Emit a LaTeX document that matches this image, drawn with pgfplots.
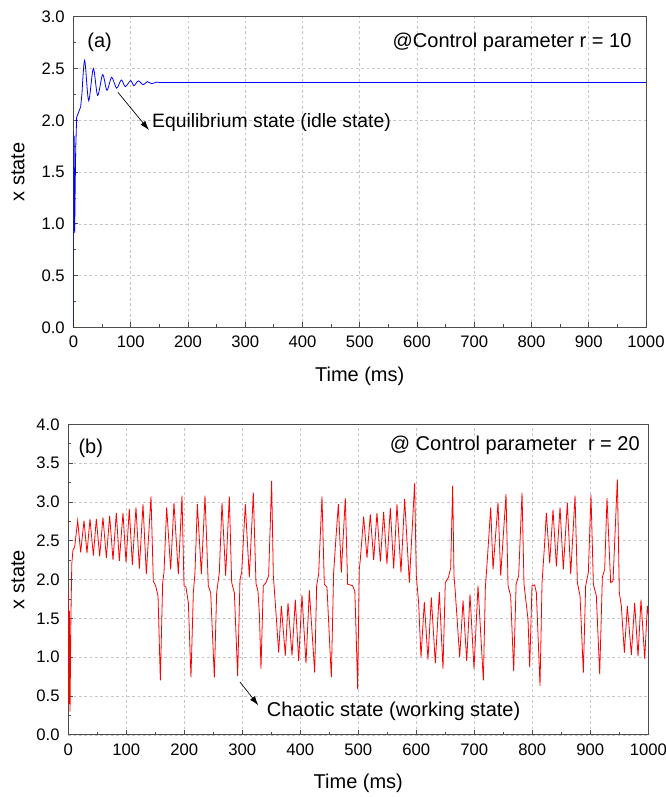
\documentclass[border=0pt]{standalone}
\usepackage{fontspec}
\setmainfont{Liberation Sans}
\usepackage{pgfplots}
\pgfplotsset{compat=1.18}
\usetikzlibrary{arrows.meta}

\pgfplotsset{
  myax/.style={
    scale only axis,
    xmin=0,xmax=1000,
    xtick={0,100,200,300,400,500,600,700,800,900,1000},
    minor x tick num=1, minor y tick num=1,
    tick align=inside,
    tick pos=left,
    major tick length=3.75pt, minor tick length=2.2pt,
    grid=major,
    major grid style={dash pattern=on 2pt off 2pt, gray!45, line width=0.4pt},
    axis line style={black!70, line width=0.6pt},
    every tick/.style={black!70, line width=0.5pt},
    /pgf/number format/assume math mode=true,
    /pgf/number format/1000 sep={},
    xticklabel style={font=\fontsize{12.5}{12.5}\selectfont, yshift=-3pt},
    yticklabel style={font=\fontsize{12.5}{12.5}\selectfont, xshift=-3pt,
      /pgf/number format/fixed, /pgf/number format/fixed zerofill, /pgf/number format/precision=1},
    label style={font=\fontsize{15}{15}\selectfont},
    xlabel={Time (ms)}, ylabel={x state},
  }
}

\begin{document}
\begin{tikzpicture}
\path[use as bounding box] (0,0) rectangle (498.75pt,-597.75pt);

% ---------------- panel (a) ----------------
\begin{axis}[myax, at={(55.05pt,-245.5pt)}, anchor=south west,
  width=429.45pt, height=232.95pt,
  ymin=0, ymax=3, ytick={0,0.5,1,1.5,2,2.5,3},
  xlabel style={at={(axis description cs:0.5,-0.158)}, anchor=center},
  ylabel style={at={(axis description cs:-0.0967,0.5)}, anchor=center}]
\addplot[color={rgb,255:red,0;green,0;blue,255}, line width=0.6pt] coordinates {
(0,0) (0.2,1.89) (0.8,0.95) (1.4,1.85) (2.2,0.91) (3,1.3) (4,1.71) (5.7,2.03) (8.6,2.07) (12.7,2.13) (15,2.26)
};
\addplot[color={rgb,255:red,0;green,0;blue,255}, line width=0.6pt, smooth, tension=0.5] coordinates {
(15,2.26) (19.7,2.58) (26.6,2.19) (34.8,2.50) (42.3,2.24) (51.1,2.44) (58.6,2.29) (66.8,2.415)
(75.5,2.31) (83.7,2.39) (90.6,2.325) (99.9,2.383) (105.7,2.334) (113.3,2.38) (122.0,2.343)
(129.0,2.373) (136.6,2.353) (145.3,2.369) (151.1,2.363)
};
\addplot[color={rgb,255:red,0;green,0;blue,255}, line width=0.6pt] coordinates {
(151.1,2.363) (1000,2.363)
};
\node[anchor=west, inner sep=0, font=\fontsize{15}{15}\selectfont] at (axis cs:24,2.757) {(a)};
\node[anchor=east, inner sep=0, font=\fontsize{15}{15}\selectfont] at (axis cs:975,2.757) {@Control parameter r = 10};
\node[anchor=west, inner sep=0, font=\fontsize{14.5}{14.5}\selectfont] at (axis cs:137.2,1.974) {Equilibrium state (idle state)};
\draw[-{Latex[length=7pt,width=4.5pt]}, line width=0.5pt] (axis cs:77.8,2.27) -- (axis cs:131.9,1.906);
\end{axis}

% ---------------- panel (b) ----------------
\begin{axis}[myax, at={(51.225pt,-551.1pt)}, anchor=south west,
  width=435pt, height=232.9pt,
  ymin=0, ymax=4, ytick={0,0.5,1,1.5,2,2.5,3,3.5,4},
  xlabel style={at={(axis description cs:0.5,-0.156)}, anchor=center},
  ylabel style={at={(axis description cs:-0.0867,0.5)}, anchor=center}]
\addplot[color={rgb,255:red,255;green,0;blue,0}, line width=0.6pt] coordinates {
(0,1.90) (1,0.40) (2,1.60) (3,0.30) (4.5,1.50) (6,2.20) (8,2.38) (11,2.42)
(16.2,2.76) (21.3,2.35) (27.1,2.76) (32.2,2.34) (37.4,2.78) (43.2,2.31) (48.3,2.78) (54.1,2.30)
(59.8,2.80) (65.6,2.28) (71.3,2.82) (77.1,2.25) (82.8,2.86) (88.0,2.24) (94.3,2.86) (99.5,2.22)
(105.2,2.91) (110.4,2.19) (116.7,2.93) (122.5,2.14) (128.8,2.97) (134.5,2.07) (142.6,3.07)
(146.6,1.98) (150.6,1.92) (154.7,1.79) (158.7,0.70)
(162.7,1.96) (165.0,2.09) (169.6,2.93) (176.5,2.13) (182.2,2.99) (189.7,2.07) (196.0,3.08)
(199.5,1.92) (202.9,1.90) (207.0,1.70) (211.5,0.74)
(215.6,1.83) (218.4,2.09) (222.5,2.97) (229.4,2.07) (235.7,3.08)
(241.4,1.92) (245.5,1.83) (251.8,0.74)
(255.8,1.83) (260.4,2.09) (265.0,2.99) (271.3,2.05) (277.6,3.07)
(281.7,1.96) (286.3,1.83) (292.0,0.76)
(296.0,2.00) (298.9,2.09) (305.2,2.97) (312.1,2.03) (319.0,3.12)
(323.6,1.95) (327.0,1.85) (329.5,1.55) (332.2,0.85)
(336.2,1.92) (340.8,1.96) (345.4,2.05) (350.6,3.27) (353.5,2.05) (356.9,1.70)
(362.7,1.06) (367.3,1.66) (374.2,1.02) (378.8,1.70) (385.7,1.02) (391.4,1.74) (397.2,0.95)
(402.9,1.80) (409.8,0.92) (415.6,1.86) (424.8,0.80)
(428.2,1.92) (431.6,2.07) (437.4,3.07) (441.4,1.94) (446.0,1.90) (453.5,0.74)
(457.5,2.09) (461.5,2.54) (465.6,2.97) (470.7,2.09) (477.6,3.05)
(481.6,1.94) (490.3,1.92) (494.0,1.85) (496.2,1.32) (498.9,0.59)
(501.7,2.13) (503.5,2.26) (509.2,2.81) (515.0,2.28) (520.7,2.84) (526.5,2.25) (532.2,2.86)
(538.0,2.23) (543.7,2.87) (549.4,2.20) (555.2,2.92) (561.0,2.14) (566.7,2.97) (573.6,2.09)
(579.9,3.04) (588.0,1.96) (597.1,3.24) (600.0,2.05) (604.0,1.70)
(608.1,1.00) (613.8,1.71) (620.1,0.97) (625.9,1.77) (632.8,0.92) (639.7,1.84) (646.0,0.85)
(650.0,1.96) (655.5,2.03) (659.3,2.15) (662.7,3.21) (665.0,2.05) (667.3,1.83)
(674.8,1.00) (680.6,1.73) (686.9,0.95) (692.6,1.81) (699.5,0.85) (706.4,1.92) (715.6,0.70)
(719.1,1.90) (722.5,2.26) (728.3,2.93) (732.3,2.13) (740.9,2.99) (745.5,2.05) (754.7,3.10)
(758.2,1.92) (762.7,1.79) (767.9,0.82)
(772.1,1.94) (776.5,2.05) (782.3,3.12) (785.7,1.94) (792.6,1.49) (795.5,0.87)
(799.5,1.92) (804.1,1.93) (807.0,1.83) (813.3,0.63)
(816.8,1.96) (821.4,2.48) (824.2,2.86) (830.0,2.21) (835.7,2.90) (841.5,2.17) (847.8,2.93)
(853.5,2.13) (860.4,2.99) (866.2,2.07) (873.7,3.08)
(877.7,1.96) (882.3,1.79) (888.0,0.80)
(892.0,1.92) (896.6,2.09) (901.2,3.09) (905.3,1.94) (910.4,1.79) (916.2,0.78)
(920.8,2.03) (924.8,2.13) (928.8,3.05) (935.1,1.96) (939.2,1.98) (946.6,3.29)
(950.1,1.83) (953.5,1.66) (958.7,1.06) (963.9,1.66) (970.8,1.03) (976.5,1.70) (982.3,1.01)
(987.4,1.74) (993.8,0.98) (998.4,1.66) (1000,1.55)
};
\node[anchor=west, inner sep=0, font=\fontsize{15}{15}\selectfont] at (axis cs:17.2,3.69) {(b)};
\node[anchor=east, inner sep=0, font=\fontsize{15}{15}\selectfont] at (axis cs:985.7,3.73) {@ Control parameter\ \ r = 20};
\node[anchor=west, inner sep=0, font=\fontsize{15}{15}\selectfont] at (axis cs:341.9,0.30) {Chaotic state (working state)};
\draw[-{Latex[length=7pt,width=4.5pt]}, line width=0.5pt] (axis cs:296,0.68) -- (axis cs:327.6,0.38);
\end{axis}
\end{tikzpicture}
\end{document}
